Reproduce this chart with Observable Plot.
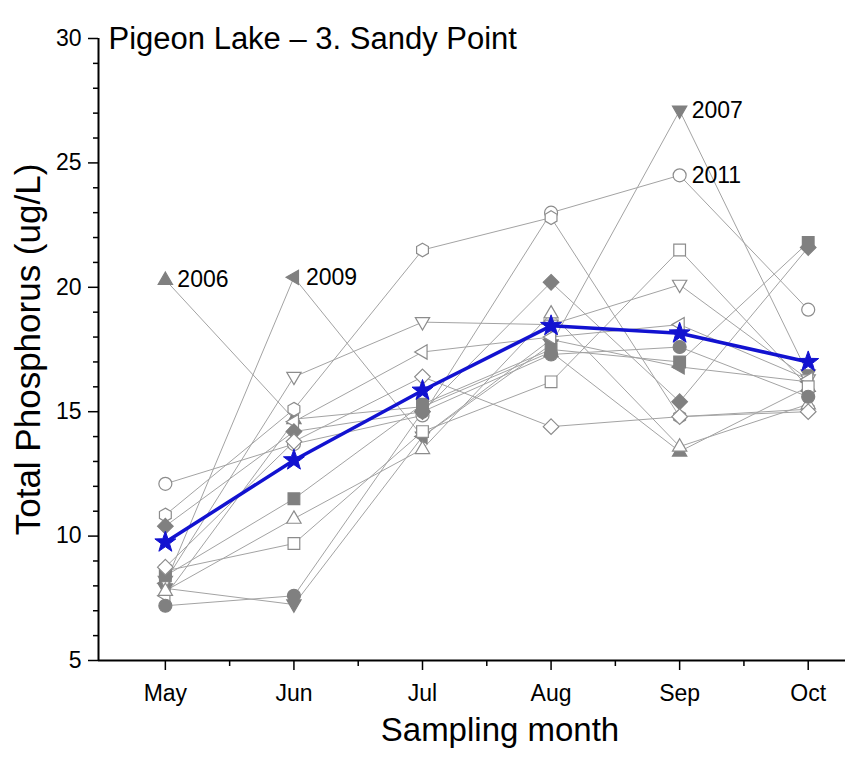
<!DOCTYPE html>
<html><head><meta charset="utf-8">
<script src="https://cdn.jsdelivr.net/npm/d3@7"></script>
<script src="https://cdn.jsdelivr.net/npm/@observablehq/plot@0.6"></script>
<style>body{margin:0;background:#fff;}</style>
</head><body><div id="chart"></div>
<script>
// ---- data ----
const months = ["May","Jun","Jul","Aug","Sep","Oct"];
const yMajorTicks = [5,10,15,20,25,30];
const titleText = "Pigeon Lake \u2013 3. Sandy Point";
const yLabel = "Total Phosphorus (ug/L)";
const xLabel = "Sampling month";

const yr2006 = [20.3, 14.7, 15.2, 17.4, 13.4, 16.0];   // filled triangle up
const yr2007 = [7.9, 7.25, 14.0, 17.7, 27.1, 16.5];   // filled triangle down
const yr2009 = [8.1, 20.4, 14.0, 17.9, 16.8, 16.2];   // filled triangle left
const yr2011 = [12.1, 13.7, 14.85, 23.0, 24.5, 19.1]; // open circle
const openHexagon = [10.85, 15.1, 21.5, 22.8, 14.8, 15.1];
const openTriDown = [8.2, 16.4, 18.6, 18.5, 20.1, 16.3];
const openTriLeft = [7.6, 14.6, 17.4, 18.0, 18.5, 16.3];
const openTriUp = [7.8, 10.7, 13.5, 18.95, 13.6, 15.3];
const openSquare = [8.6, 9.7, 14.2, 16.2, 21.5, 16.0];
const filledSquare = [8.4, 11.5, 15.3, 17.5, 17.0, 21.8];
const filledDiamond = [10.4, 14.2, 15.0, 20.2, 15.4, 21.6];
const openDiamond = [8.75, 13.8, 16.4, 14.4, 14.8, 15.0];
const filledCircle = [7.2, 7.6, 15.0, 17.3, 17.6, 15.6];
const meanTP = [9.75, 13.05, 15.85, 18.45, 18.15, 17.0];

// ---- symbols ----
function poly(pts) {
  return {draw(ctx, size) {
    const R = Math.sqrt(size / Math.PI);
    ctx.moveTo(pts[0][0] * R, pts[0][1] * R);
    for (let i = 1; i < pts.length; i++) ctx.lineTo(pts[i][0] * R, pts[i][1] * R);
    ctx.closePath();
  }};
}
const circleSym = {draw(ctx, size) { const R = Math.sqrt(size / Math.PI); ctx.moveTo(R, 0); ctx.arc(0, 0, R, 0, 2 * Math.PI); }};
const triUp = poly([[0,-1.2],[1.1,0.7],[-1.1,0.7]]);
const triDown = poly([[0,1.2],[1.1,-0.7],[-1.1,-0.7]]);
const triLeft = poly([[-1.2,0],[0.7,-1.1],[0.7,1.1]]);
const squareSym = poly([[-0.9,-0.9],[0.9,-0.9],[0.9,0.9],[-0.9,0.9]]);
const diamondSym = poly([[0,-1.2],[1.2,0],[0,1.2],[-1.2,0]]);
const hexSym = poly(d3.range(6).map(k => { const a = -Math.PI/2 + k*Math.PI/3; return [1.05*Math.cos(a), 1.05*Math.sin(a)]; }));
const starSym = poly(d3.range(10).map(k => { const a = -Math.PI/2 + k*Math.PI/5; const r = k % 2 ? 0.42 : 1.05; return [r*Math.cos(a), r*Math.sin(a)]; }));

const GRAY_FILL = "#808080";
const series = [
  {key: "2006", values: yr2006, symbol: triUp, filled: true},
  {key: "2007", values: yr2007, symbol: triDown, filled: true},
  {key: "2009", values: yr2009, symbol: triLeft, filled: true},
  {key: "2011", values: yr2011, symbol: circleSym, filled: false},
  {key: "hex", values: openHexagon, symbol: hexSym, filled: false},
  {key: "tridown", values: openTriDown, symbol: triDown, filled: false},
  {key: "trileft", values: openTriLeft, symbol: triLeft, filled: false},
  {key: "triup", values: openTriUp, symbol: triUp, filled: false},
  {key: "osq", values: openSquare, symbol: squareSym, filled: false},
  {key: "fsq", values: filledSquare, symbol: squareSym, filled: true},
  {key: "fdia", values: filledDiamond, symbol: diamondSym, filled: true},
  {key: "odia", values: openDiamond, symbol: diamondSym, filled: false},
  {key: "fcirc", values: filledCircle, symbol: circleSym, filled: true}
];

const rows = series.flatMap(s => s.values.map((v, i) => ({key: s.key, m: i, v})));
const meanRows = meanTP.map((v, i) => ({m: i, v}));
const labels = [
  {t: "2006", m: 0, v: yr2006[0]},
  {t: "2009", m: 1, v: yr2009[1]},
  {t: "2007", m: 4, v: yr2007[4]},
  {t: "2011", m: 4, v: yr2011[4]}
];

const xMin = -0.52, xMax = 5.29;
const monthIdx = months.map((d, i) => i);
const xMinor = monthIdx.slice(0, -1).map(i => i + 0.5);
const yMinorTicks = d3.range(5, 31).filter(v => v % 5 !== 0);

const dotMarks = series.map(s => Plot.dot(rows.filter(r => r.key === s.key), {
  x: "m", y: "v", symbol: s.symbol, r: 6.5,
  fill: s.filled ? GRAY_FILL : "#ffffff",
  stroke: s.filled ? GRAY_FILL : "#8c8c8c",
  strokeWidth: 1.2
}));

const FONT = "Liberation Sans, Arial, sans-serif";
const chart = Plot.plot({
  width: 866, height: 757,
  marginLeft: 98, marginRight: 21, marginTop: 38, marginBottom: 97,
  style: {fontFamily: FONT, fontSize: "23px", background: "#fff", color: "#000"},
  x: {domain: [xMin, xMax]},
  y: {domain: [5, 30]},
  marks: [
    Plot.line(rows, {x: "m", y: "v", z: "key", stroke: "#a3a3a3", strokeWidth: 1}),
    ...dotMarks,
    Plot.line(meanRows, {x: "m", y: "v", stroke: "#1212d0", strokeWidth: 3.5}),
    Plot.dot(meanRows, {x: "m", y: "v", symbol: starSym, r: 10.5, fill: "#1212d0", stroke: "#1212d0", strokeWidth: 1}),
    Plot.text(labels, {x: "m", y: "v", text: "t", dx: 12, textAnchor: "start", fontSize: 23, fill: "#000"}),
    Plot.ruleY([5], {stroke: "#000", strokeWidth: 2}),
    Plot.ruleX([xMin], {stroke: "#000", strokeWidth: 2}),
    Plot.axisY({ticks: yMajorTicks, tickSize: 10, tickPadding: 7, fontSize: 23, label: null, stroke: "#000", strokeWidth: 1.5}),
    Plot.axisY({ticks: yMinorTicks, tickSize: 5, tickFormat: () => "", label: null, stroke: "#000", strokeWidth: 1.5}),
    Plot.axisX({ticks: monthIdx, tickFormat: i => months[i], tickSize: 10, tickPadding: 14, fontSize: 23, label: null, stroke: "#000", strokeWidth: 1.5}),
    Plot.axisX({ticks: xMinor, tickSize: 6, tickFormat: () => "", label: null, stroke: "#000", strokeWidth: 1.5}),
    Plot.text([titleText], {frameAnchor: "top-left", dx: 10, dy: -12, textAnchor: "start", fontSize: 31, fill: "#000"}),
    Plot.text([yLabel], {frameAnchor: "left", textAnchor: "middle", rotate: -90, dx: -70, fontSize: 35, fill: "#000"}),
    Plot.text([xLabel], {frameAnchor: "bottom", textAnchor: "middle", dx: 28, dy: 80, fontSize: 33, fill: "#000"})
  ]
});
document.getElementById("chart").appendChild(chart);
</script>
</body></html>
